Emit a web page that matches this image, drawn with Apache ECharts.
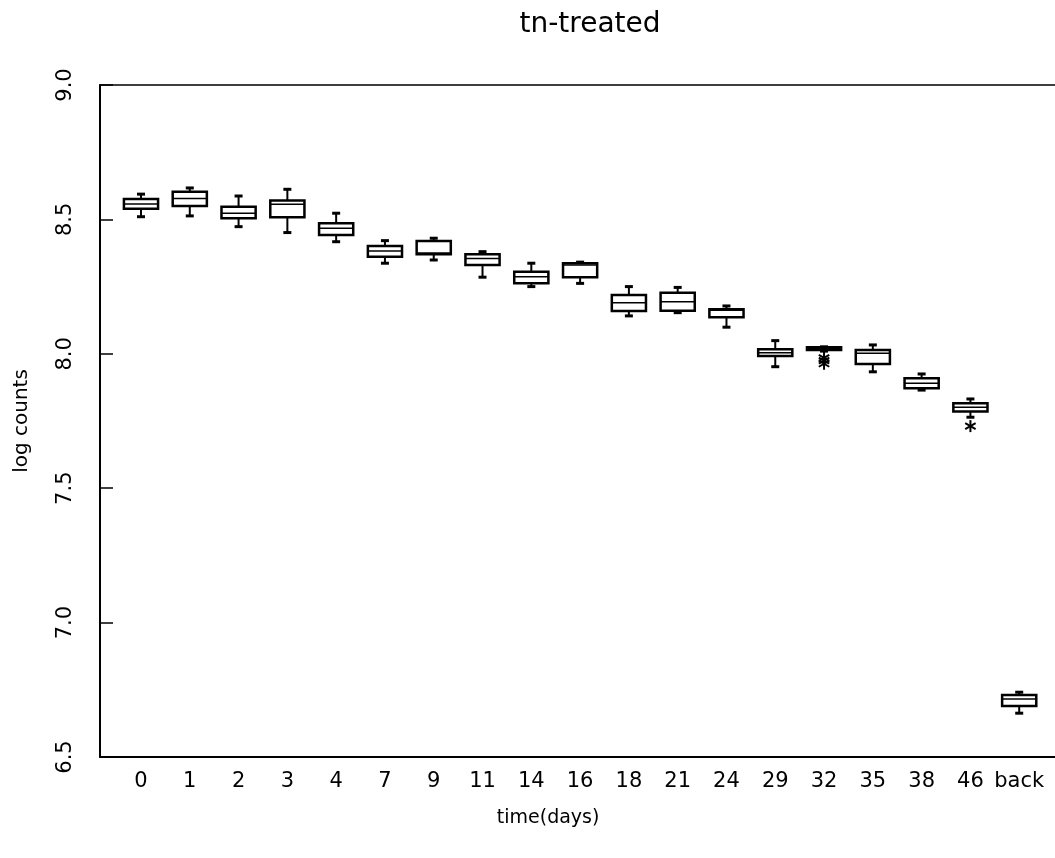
<!DOCTYPE html>
<html lang="en">

<head>
    <meta charset="UTF-8">
    <title>tn-treated</title>
    <script src="https://cdn.jsdelivr.net/npm/echarts@6/dist/echarts.min.js"></script>
    <style>
        html, body { margin: 0; padding: 0; background: #fff; }
        #chart { width: 1055px; height: 858px; }
    </style>
</head>

<body>
    <div id="chart"></div>
    <script type="text/javascript">
        // categories (days)
        var days = ['0', '1', '2', '3', '4', '7', '9', '11', '14', '16', '18', '21', '24', '29', '32', '35', '38', '46', 'back'];
        // box stats
        var lowWhisker = [8.510, 8.513, 8.473, 8.451, 8.417, 8.337, 8.349, 8.285, 8.250, 8.262, 8.141, 8.153, 8.099, 7.952, 8.010, 7.933, 7.865, 7.764, 6.663];
        var q1 = [8.540, 8.550, 8.504, 8.508, 8.442, 8.361, 8.370, 8.330, 8.262, 8.285, 8.159, 8.160, 8.136, 7.992, 8.014, 7.962, 7.872, 7.785, 6.690];
        var median = [8.557, 8.578, 8.523, 8.556, 8.467, 8.382, 8.375, 8.355, 8.287, 8.330, 8.190, 8.194, 8.162, 8.004, 8.020, 8.002, 7.890, 7.801, 6.716];
        var q3 = [8.576, 8.603, 8.547, 8.570, 8.486, 8.401, 8.420, 8.370, 8.305, 8.337, 8.219, 8.227, 8.166, 8.017, 8.024, 8.014, 7.909, 7.816, 6.731];
        var highWhisker = [8.594, 8.617, 8.587, 8.612, 8.523, 8.421, 8.430, 8.380, 8.337, 8.341, 8.250, 8.247, 8.178, 8.049, 8.026, 8.033, 7.925, 7.832, 6.741];
        // outliers: [category index, value]
        var outliers = [[14, 7.985], [14, 7.975], [14, 7.963], [17, 7.731]];
        var yTicks = [6.5, 7.0, 7.5, 8.0, 8.5, 9.0];

        var font = 'DejaVu Sans';

        var boxData = days.map(function (d, i) {
            return [i, lowWhisker[i], q1[i], median[i], q3[i], highWhisker[i]];
        });

        function renderBox(params, api) {
            var x = api.value(0);
            var bw = api.size([1, 0])[0] * 0.7;
            var pLow = api.coord([x, api.value(1)]);
            var pQ1 = api.coord([x, api.value(2)]);
            var pMed = api.coord([x, api.value(3)]);
            var pQ3 = api.coord([x, api.value(4)]);
            var pHigh = api.coord([x, api.value(5)]);
            var cx = pMed[0];
            var cap = 4;
            var st = { stroke: '#000', lineWidth: 2, fill: null };
            return {
                type: 'group',
                children: [
                    { type: 'line', shape: { x1: cx, y1: pQ3[1], x2: cx, y2: pHigh[1] }, style: st },
                    { type: 'line', shape: { x1: cx, y1: pQ1[1], x2: cx, y2: pLow[1] }, style: st },
                    { type: 'line', shape: { x1: cx - cap, y1: pHigh[1], x2: cx + cap, y2: pHigh[1] }, style: { stroke: '#000', lineWidth: 3 } },
                    { type: 'line', shape: { x1: cx - cap, y1: pLow[1], x2: cx + cap, y2: pLow[1] }, style: { stroke: '#000', lineWidth: 3 } },
                    { type: 'rect', shape: { x: cx - bw / 2, y: pQ3[1], width: bw, height: pQ1[1] - pQ3[1] }, style: { stroke: '#000', lineWidth: 2.5, fill: '#fff' } },
                    { type: 'line', shape: { x1: cx - bw / 2, y1: pMed[1], x2: cx + bw / 2, y2: pMed[1] }, style: { stroke: '#000', lineWidth: 1.5 } }
                ]
            };
        }

        function renderStar(params, api) {
            var p = api.coord([api.value(0), api.value(1)]);
            var r = 6;
            var a = r * 0.87, b = r * 0.5;
            var st = { stroke: '#000', lineWidth: 2 };
            return {
                type: 'group',
                children: [
                    { type: 'line', shape: { x1: p[0], y1: p[1] - r, x2: p[0], y2: p[1] + r }, style: st },
                    { type: 'line', shape: { x1: p[0] - a, y1: p[1] - b, x2: p[0] + a, y2: p[1] + b }, style: st },
                    { type: 'line', shape: { x1: p[0] - a, y1: p[1] + b, x2: p[0] + a, y2: p[1] - b }, style: st }
                ]
            };
        }

        var myChart = echarts.init(document.getElementById('chart'));
        var option = {
            animation: false,
            backgroundColor: '#fff',
            title: {
                text: 'tn-treated',
                left: 585,
                top: 6,
                textAlign: 'center',
                textStyle: { fontFamily: font, fontSize: 28, fontWeight: 'normal', color: '#000' }
            },
            grid: [
                // frame
                { left: 100, top: 85, right: 0, bottom: 101 },
                // data
                { left: 116.6, top: 85, width: 927, bottom: 101 }
            ],
            xAxis: [
                {
                    gridIndex: 0, type: 'value', position: 'bottom', min: 0, max: 1,
                    axisLine: { show: true, lineStyle: { color: '#000', width: 2 } },
                    axisTick: { show: false }, axisLabel: { show: false }, splitLine: { show: false }
                },
                {
                    gridIndex: 0, type: 'value', position: 'top', min: 0, max: 1,
                    axisLine: { show: true, lineStyle: { color: '#000', width: 1.5 } },
                    axisTick: { show: false }, axisLabel: { show: false }, splitLine: { show: false }
                },
                {
                    gridIndex: 1, type: 'category', data: days, position: 'bottom',
                    name: 'time(days)', nameLocation: 'middle', nameGap: 52,
                    nameTextStyle: { fontFamily: font, fontSize: 19, color: '#000', padding: [0, 64, 0, 0] },
                    axisLine: { show: false }, axisTick: { show: false },
                    axisLabel: { fontFamily: font, fontSize: 21, color: '#000', margin: 14, interval: 0 },
                    splitLine: { show: false }
                }
            ],
            yAxis: [
                {
                    gridIndex: 0, type: 'value', min: 6.5, max: 9.0, interval: 0.5,
                    name: 'log counts', nameLocation: 'middle', nameGap: 68, nameRotate: 90,
                    nameTextStyle: { fontFamily: font, fontSize: 20, color: '#000' },
                    axisLine: { show: true, lineStyle: { color: '#000', width: 2 } },
                    axisTick: { show: true, inside: true, length: 13, lineStyle: { color: '#000', width: 1.5 } },
                    axisLabel: {
                        rotate: 90, margin: 24, fontFamily: font, fontSize: 21, color: '#000',
                        formatter: function (v) { return yTicks.indexOf(v) >= 0 ? v.toFixed(1) : ''; }
                    },
                    splitLine: { show: false }
                },
                {
                    gridIndex: 1, type: 'value', min: 6.5, max: 9.0, show: false
                }
            ],
            series: [
                {
                    name: 'box', type: 'custom', xAxisIndex: 2, yAxisIndex: 1,
                    renderItem: renderBox, data: boxData,
                    encode: { x: 0, y: [1, 2, 3, 4, 5] }
                },
                {
                    name: 'outlier', type: 'custom', xAxisIndex: 2, yAxisIndex: 1,
                    renderItem: renderStar, data: outliers,
                    encode: { x: 0, y: 1 }
                }
            ]
        };
        myChart.setOption(option);
    </script>
</body>

</html>
